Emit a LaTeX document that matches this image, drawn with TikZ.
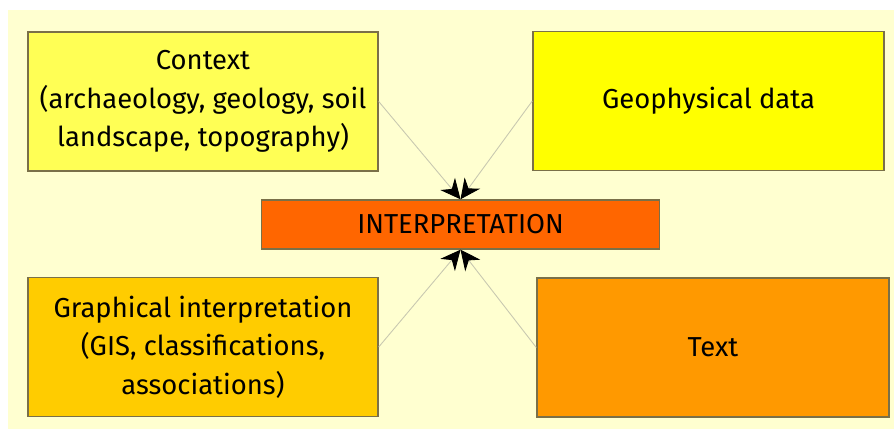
\documentclass[tikz,border=0pt]{standalone}
\usepackage{fontspec}
\setmainfont{Fira Sans}
\usetikzlibrary{arrows.meta}
\definecolor{bgyellow}{HTML}{FFFFD0}
\definecolor{contextfill}{HTML}{FFFF55}
\definecolor{geofill}{HTML}{FFFF00}
\definecolor{interpfill}{HTML}{FF6600}
\definecolor{graphfill}{HTML}{FFCC00}
\definecolor{textfill}{HTML}{FF9900}
\definecolor{linkgray}{HTML}{C8C8B0}
\definecolor{boxborder}{HTML}{7A7048}
\begin{document}
\begin{tikzpicture}[
  every node/.style={font=\fontsize{15.6}{22}\selectfont, text=black},
  box/.style={draw=boxborder, line width=0.8pt, align=center,
    minimum width=7cm, minimum height=2.78cm, inner sep=2pt},
  link/.style={draw=linkgray, line width=0.5pt,
    -{Stealth[black, length=4mm, width=3.8mm, inset=1.3mm]}}
]
  % Background
  \useasboundingbox (0,0) rectangle (17.88,8.58);
  \fill[bgyellow] (0.16,0) rectangle (17.88,8.38);

  % Boxes
  \node[box, fill=contextfill] (context) at (4.06,6.55)
    {Context\\(archaeology, geology, soil\\landscape, topography)};
  \node[box, fill=geofill, minimum width=7.02cm] (geo) at (14.17,6.56)
    {Geophysical data};
  \node[box, fill=interpfill, minimum width=7.96cm, minimum height=0.98cm] (interp) at (9.21,4.09)
    {INTERPRETATION};
  \node[box, fill=graphfill] (graph) at (4.06,1.64)
    {Graphical interpretation\\(GIS, classifications,\\associations)};
  \node[box, fill=textfill, minimum width=7.04cm] (text) at (14.26,1.63)
    {Text};

  % Links
  \draw[link] (context.east) -- (interp.north);
  \draw[link] (geo.west) -- (interp.north);
  \draw[link] (graph.east) -- (interp.south);
  \draw[link] (text.west) -- (interp.south);

\end{tikzpicture}
\end{document}
